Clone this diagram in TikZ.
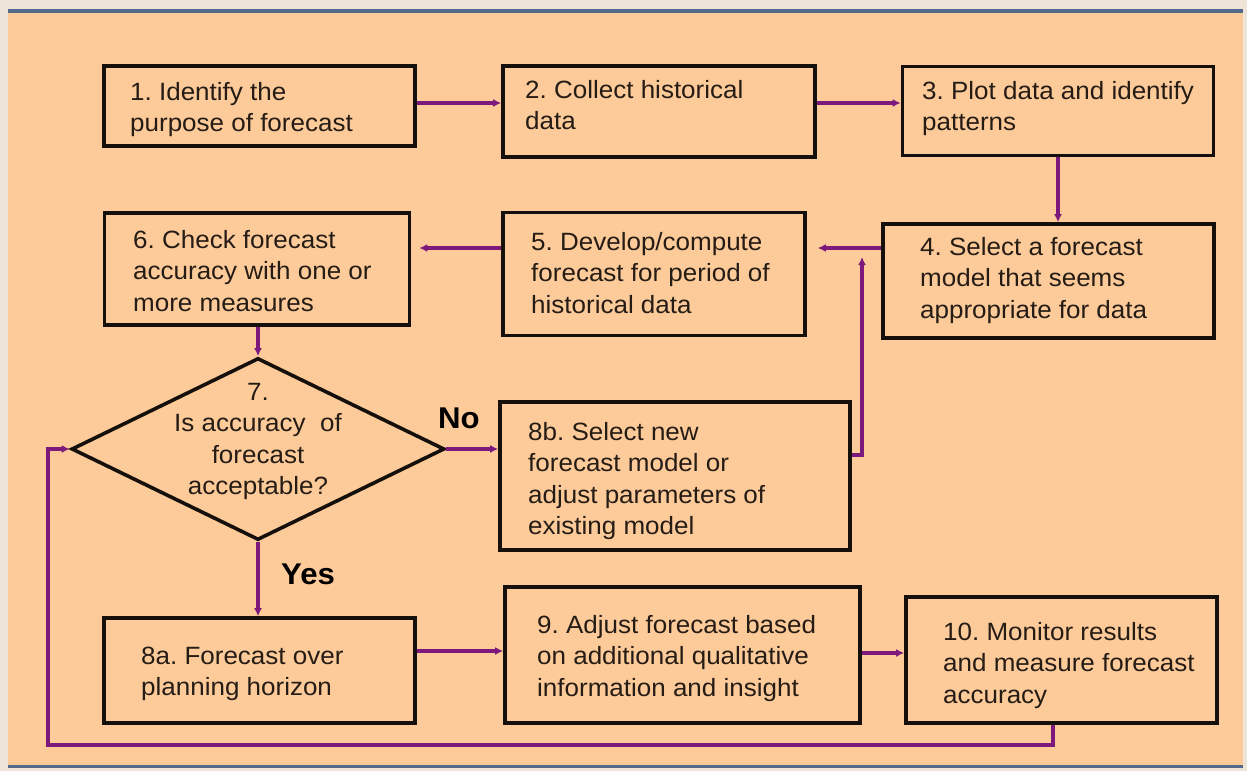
\documentclass[tikz,border=0pt]{standalone}
\usepackage{fontspec}
\setmainfont{Liberation Sans}[FakeStretch=1.04]
\usetikzlibrary{shapes.geometric,arrows.meta,calc}
\frenchspacing

\definecolor{peach}{RGB}{253,203,153}
\definecolor{paper}{RGB}{238,229,216}
\definecolor{rulecol}{RGB}{84,104,140}
\definecolor{flow}{RGB}{125,25,125}
\definecolor{ink}{RGB}{38,28,22}
\definecolor{edgecol}{RGB}{22,16,12}

\newcommand{\leftlines}[1]{\begin{tabular}[t]{@{}l@{}}#1\end{tabular}}
\newcommand{\midlines}[1]{\begin{tabular}[t]{@{}c@{}}#1\end{tabular}}

\tikzset{
  stepbox/.style={draw=edgecol, line width=3.6pt, inner sep=0pt},
  steptext/.style={anchor=base west, inner sep=0pt, text=ink,
    font=\fontsize{25}{31.5}\selectfont},
  branchlabel/.style={anchor=base west, inner sep=0pt, text=black,
    font=\fontsize{30}{34}\selectfont\bfseries},
  flowline/.style={draw=flow, line width=3.3pt,
    -{Latex[length=8pt,width=8pt]}}
}

\begin{document}
\begin{tikzpicture}[x=1pt,y=-1pt]
  % page and frame
  \useasboundingbox (0,0) rectangle (1247,771);
  \fill[paper] (0,0) rectangle (1247,771);
  \fill[peach] (8,12) rectangle (1243,765);
  \draw[rulecol, line width=4pt] (8,10.5) -- (1243,10.5);
  \draw[rulecol, line width=3.5pt] (8,766.5) -- (1243,766.5);

  % step boxes
  \node[stepbox, minimum width=311, minimum height=80]  (b1)  at (259.5,106) {};
  \node[stepbox, minimum width=312, minimum height=91]  (b2)  at (659,111.5) {};
  \node[stepbox, minimum width=311, minimum height=89]  (b3)  at (1058,111) {};
  \node[stepbox, minimum width=331, minimum height=114] (b4)  at (1048.5,281) {};
  \node[stepbox, minimum width=302, minimum height=123] (b5)  at (654,274) {};
  \node[stepbox, minimum width=305, minimum height=112] (b6)  at (257,269) {};
  \node[stepbox, minimum width=350, minimum height=148] (b8b) at (675,476) {};
  \node[stepbox, minimum width=311, minimum height=105] (b8a) at (259.5,670.5) {};
  \node[stepbox, minimum width=355, minimum height=136] (b9)  at (682.5,655) {};
  \node[stepbox, minimum width=311, minimum height=126] (b10) at (1061.5,660) {};

  % decision
  \node[diamond, stepbox, minimum width=373, minimum height=182] (d7) at (258,449) {};

  % box texts
  \node[steptext] (t1)  at (130,100) {\leftlines{1. Identify the\\purpose of forecast}};
  \node[steptext] (t2)  at (525,98)  {\leftlines{2. Collect historical\\data}};
  \node[steptext] (t3)  at (922,99)  {\leftlines{3. Plot data and identify\\patterns}};
  \node[steptext] (t4)  at (920,255) {\leftlines{4. Select a forecast\\model that seems\\appropriate for data}};
  \node[steptext] (t5)  at (531,250) {\leftlines{5. Develop/compute\\forecast for period of\\historical data}};
  \node[steptext] (t6)  at (133,248) {\leftlines{6. Check forecast\\accuracy with one or\\more measures}};
  \node[steptext, anchor=base] (t7) at (258,400) {\midlines{7.\\Is accuracy\ \ of\\forecast\\acceptable?}};
  \node[steptext] (t8b) at (528,440) {\leftlines{8b. Select new\\forecast model or\\adjust parameters of\\existing model}};
  \node[steptext] (t8a) at (141,664) {\leftlines{8a. Forecast over\\planning horizon}};
  \node[steptext] (t9)  at (537,633) {\leftlines{9. Adjust forecast based\\on additional qualitative\\information and insight}};
  \node[steptext] (t10) at (943,640) {\leftlines{10. Monitor results\\and measure forecast\\accuracy}};

  % branch labels
  \node[branchlabel] (no)  at (438,428) {No};
  \node[branchlabel] (yes) at (281,584) {Yes};

  % junction points of the return paths
  \coordinate (merge) at (862,257);
  \coordinate (loopR) at (1053,745);
  \coordinate (loopL) at (48,745);

  % connectors
  \draw[flowline] ([yshift=3pt]b1.east) -- ([yshift=3pt]b1.east -| b2.west);
  \draw[flowline] ([yshift=8.5pt]b2.east) -- ([yshift=8.5pt]b2.east -| b3.west);
  \draw[flowline] (b3.south) -- (b3.south |- b4.north);
  \draw[flowline, shorten >=11pt] ([yshift=33pt]b4.west) -- ([yshift=33pt]b4.west -| b5.east);
  \draw[flowline, shorten >=8pt] ([yshift=26pt]b5.west) -- ([yshift=26pt]b5.west -| b6.east);
  \draw[flowline] (b6.south -| d7.north) -- (d7.north);
  \draw[flowline] (d7.east) -- (d7.east -| b8b.west);
  \draw[flowline] ([yshift=21pt]b8b.east) -- ([yshift=21pt]b8b.east -| merge) -- (merge);
  \draw[flowline] (d7.south) -- (d7.south |- b8a.north);
  \draw[flowline] ([yshift=19.5pt]b8a.east) -- ([yshift=19.5pt]b8a.east -| b9.west);
  \draw[flowline] ([yshift=2pt]b9.east) -- ([yshift=2pt]b9.east -| b10.west);
  \draw[flowline] (b10.south -| loopR) -- (loopR) -- (loopL) -- (loopL |- d7.west) -- (d7.west);
\end{tikzpicture}
\end{document}
